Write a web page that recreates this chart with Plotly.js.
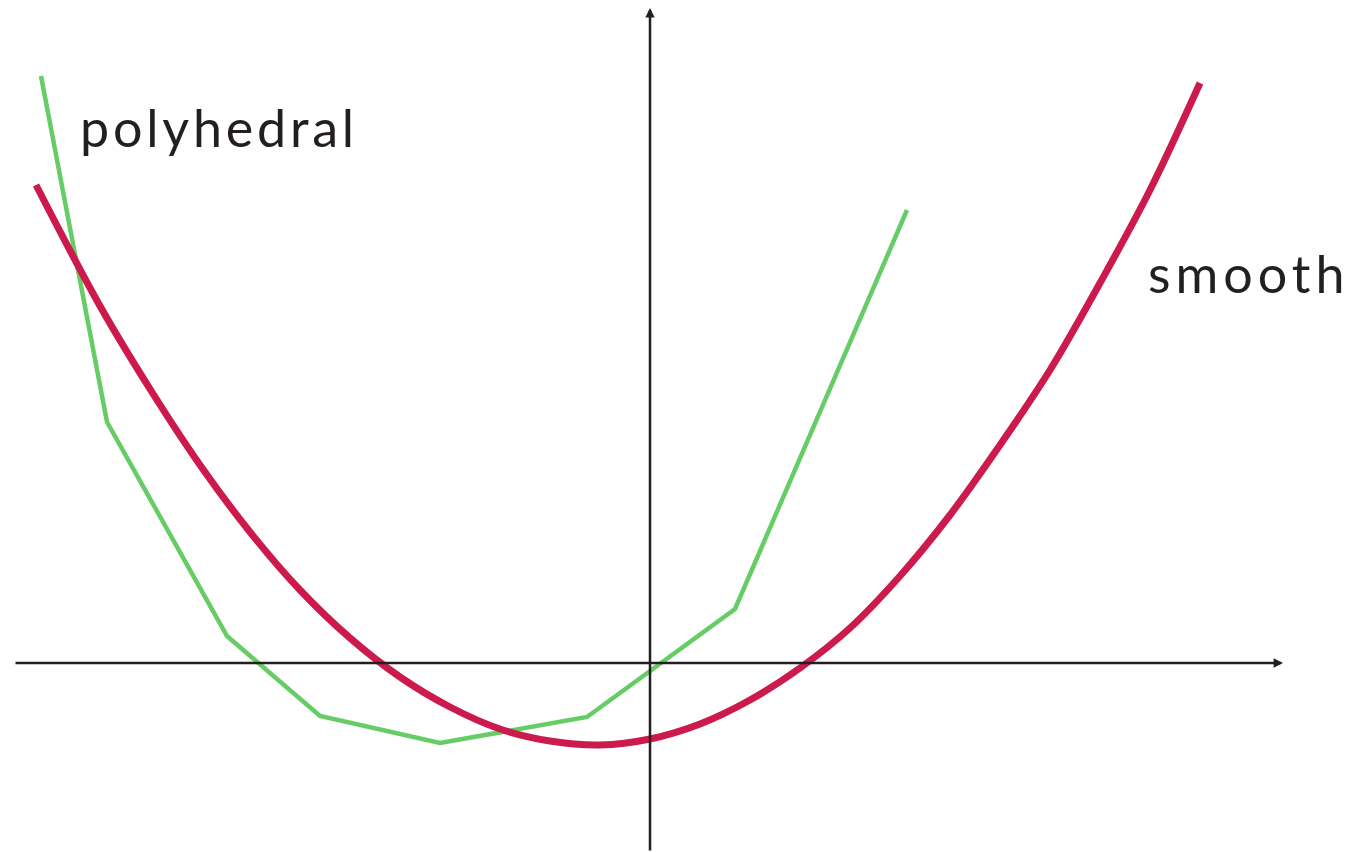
<!DOCTYPE html>
<html>
<head>
<meta charset="utf-8">
<script src="https://cdn.plot.ly/plotly-3.0.1.min.js"></script>
<style>
html,body{margin:0;padding:0;background:#fff;}
#chart{width:1355px;height:852px;}
.annotation[data-index="2"] .annotation-text{letter-spacing:3.8px;}
.annotation[data-index="3"] .annotation-text{letter-spacing:5px;}
</style>
</head>
<body>
<div id="chart"></div>
<script>
// Polyhedral (piecewise linear) approximation, vertices
const polyX = [-6.09, -5.43, -4.23, -3.30, -2.10, -0.63, 0.85, 2.57];
const polyY = [5.87, 2.41, 0.27, -0.53, -0.80, -0.54, 0.54, 4.53];

// Smooth curve, points
const smoothX = [-6.14, -5.5, -5.0, -4.5, -4.0, -3.5, -3.0, -2.5, -2.0, -1.5, -1.0, -0.5, 0.0, 0.5, 1.0, 1.5, 2.0, 2.5, 3.0, 3.5, 4.0, 4.5, 5.0, 5.5];
const smoothY = [4.78, 3.57, 2.74, 1.98, 1.31, 0.73, 0.25, -0.14, -0.44, -0.66, -0.78, -0.82, -0.76, -0.61, -0.37, -0.05, 0.35, 0.87, 1.48, 2.18, 2.93, 3.80, 4.73, 5.80];

// Labels
const labelTexts = ["polyhedral", "smooth"];

// Axis extents
const xAxisFrom = -6.36, xAxisTo = 6.33;
const yAxisFrom = -1.89, yAxisTo = 6.55;

const ink = '#231f20';
const green = '#66cc66';
const red = '#cc1a4d';

const traces = [
  {x: polyX, y: polyY, mode: 'lines', type: 'scatter', line: {color: green, width: 4.5}, hoverinfo: 'skip'},
  {x: smoothX, y: smoothY, mode: 'lines', type: 'scatter', line: {color: red, width: 7, shape: 'spline', smoothing: 1}, hoverinfo: 'skip'}
];

const annotations = [
  {x: xAxisTo, y: 0, ax: xAxisFrom, ay: 0, axref: 'x', ayref: 'y', xref: 'x', yref: 'y', text: '', showarrow: true, arrowhead: 2, arrowsize: 0.75, arrowwidth: 2.5, arrowcolor: ink, standoff: 0, startstandoff: 0},
  {x: 0, y: yAxisTo, ax: 0, ay: yAxisFrom, axref: 'x', ayref: 'y', xref: 'x', yref: 'y', text: '', showarrow: true, arrowhead: 2, arrowsize: 0.75, arrowwidth: 2.5, arrowcolor: ink, standoff: 0, startstandoff: 0},
  {x: -5.53, y: 5.36, xref: 'x', yref: 'y', text: labelTexts[0], showarrow: false, xanchor: 'left', yanchor: 'middle', font: {family: 'Lato, sans-serif', size: 52, color: ink}},
  {x: 5.11, y: 3.90, xref: 'x', yref: 'y', text: labelTexts[1], showarrow: false, xanchor: 'left', yanchor: 'middle', font: {family: 'Lato, sans-serif', size: 52, color: ink}}
];

const layout = {
  width: 1355, height: 852,
  margin: {l: 0, r: 0, t: 0, b: 0, pad: 0},
  paper_bgcolor: '#ffffff', plot_bgcolor: '#ffffff',
  showlegend: false,
  xaxis: {range: [-6.50, 7.05], visible: false, fixedrange: true},
  yaxis: {range: [-1.89, 6.63], visible: false, fixedrange: true},
  annotations: annotations
};

Plotly.newPlot('chart', traces, layout, {staticPlot: true, displayModeBar: false});
</script>
</body>
</html>
